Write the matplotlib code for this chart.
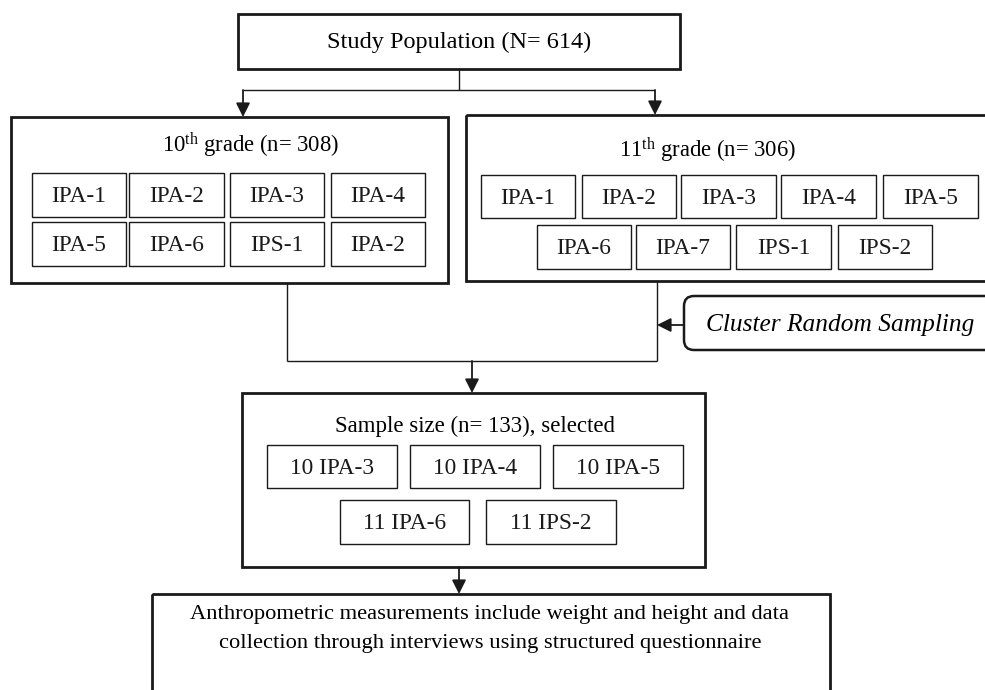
import matplotlib
matplotlib.use("Agg")
import matplotlib.pyplot as plt
from matplotlib.patches import Rectangle, FancyBboxPatch

plt.rcParams['font.family'] = ['Liberation Serif', 'DejaVu Serif']
plt.rcParams['mathtext.fontset'] = 'custom'
plt.rcParams['mathtext.rm'] = 'Liberation Serif'
plt.rcParams['mathtext.it'] = 'Liberation Serif:italic'

# texts of the flow chart
title_top = "Study Population (N= 614)"
title_10 = "10$^{\\rm th}$ grade (n= 308)"
title_11 = "11$^{\\rm th}$ grade (n= 306)"
classes_10 = ["IPA-1", "IPA-2", "IPA-3", "IPA-4",
              "IPA-5", "IPA-6", "IPS-1", "IPA-2"]
classes_11 = ["IPA-1", "IPA-2", "IPA-3", "IPA-4", "IPA-5",
              "IPA-6", "IPA-7", "IPS-1", "IPS-2"]
sampling = "Cluster Random Sampling"
title_sample = "Sample size (n= 133), selected"
classes_sample = ["10 IPA-3", "10 IPA-4", "10 IPA-5", "11 IPA-6", "11 IPS-2"]
final_text = ("Anthropometric measurements include weight and height and data\n"
              "collection through interviews using structured questionnaire")

fig = plt.figure(figsize=(9.85, 6.9), dpi=100)
ax = fig.add_axes([0, 0, 1, 1])
ax.set_xlim(0, 985)
ax.set_ylim(690, 0)
ax.axis('off')


def box(x0, y0, x1, y1, lw=1.0):
    ax.add_patch(Rectangle((x0, y0), x1 - x0, y1 - y0, fill=False,
                           edgecolor='#1a1a1a', linewidth=lw))


def label_box(x0, y0, x1, y1, txt, size=16.8):
    box(x0, y0, x1, y1, lw=1.0)
    ax.text((x0 + x1) / 2, (y0 + y1) / 2 + 1.5, txt, ha='center', va='center',
            fontsize=size, color='#1a1a1a')


def line(xs, ys):
    ax.plot(xs, ys, color='#1a1a1a', linewidth=1.0, solid_capstyle='butt')


def arrow(x0, y0, x1, y1):
    ax.annotate("", xy=(x1, y1), xytext=(x0, y0),
                arrowprops=dict(arrowstyle='-|>', color='#1a1a1a', lw=1.3,
                                mutation_scale=21, shrinkA=0, shrinkB=0))


# top box
box(238, 14, 680, 69, lw=2.0)
ax.text(459, 42, title_top, ha='center', va='center', fontsize=17.5)
line([459, 459], [69, 90])
line([243, 655], [90, 90])
arrow(243, 90, 243, 117)
arrow(655, 90, 655, 115)

# 10th grade
box(11, 117, 448, 283, lw=2.0)
ax.text(250, 145, title_10, ha='center', va='center', fontsize=16.3)
cols10 = [(32, 126), (129, 224), (230, 324), (331, 425)]
rows10 = [(173, 217), (222, 266)]
for i, name in enumerate(classes_10):
    (xa, xb), (ya, yb) = cols10[i % 4], rows10[i // 4]
    label_box(xa, ya, xb, yb, name)

# 11th grade
box(466, 115, 995, 281, lw=2.0)
ax.text(707, 150, title_11, ha='center', va='center', fontsize=16.3)
cols11 = [(481, 575), (582, 676), (681, 776), (781, 876), (883, 978),
          (537, 631), (636, 730), (736, 831), (838, 932)]
for i, name in enumerate(classes_11):
    xa, xb = cols11[i]
    ya, yb = (175, 218) if i < 5 else (225, 269)
    label_box(xa, ya, xb, yb, name)

# joining lines
line([287, 287], [283, 361])
line([657, 657], [281, 361])
line([287, 657], [361, 361])

# cluster random sampling
ax.add_patch(FancyBboxPatch((684, 296), 330, 54,
                            boxstyle="round,pad=0,rounding_size=10",
                            fill=False, edgecolor='#1a1a1a', linewidth=1.8))
ax.text(840, 325, sampling, ha='center', va='center', fontsize=18.3,
        style='italic')
arrow(684, 325, 657, 325)

# sample box
arrow(472, 361, 472, 393)
box(242, 393, 705, 567, lw=2.0)
ax.text(475, 426, title_sample, ha='center', va='center', fontsize=16.5)
cols_s = [(267, 397), (410, 540), (553, 683), (340, 469), (486, 616)]
for i, name in enumerate(classes_sample):
    xa, xb = cols_s[i]
    ya, yb = (445, 488) if i < 3 else (500, 544)
    label_box(xa, ya, xb, yb, name)

# final box
arrow(459, 567, 459, 594)
box(152, 594, 830, 700, lw=2.0)
ax.text(490, 629, final_text, ha='center', va='center', fontsize=16.2,
        linespacing=1.65)

fig.savefig("out.png", dpi=100)
